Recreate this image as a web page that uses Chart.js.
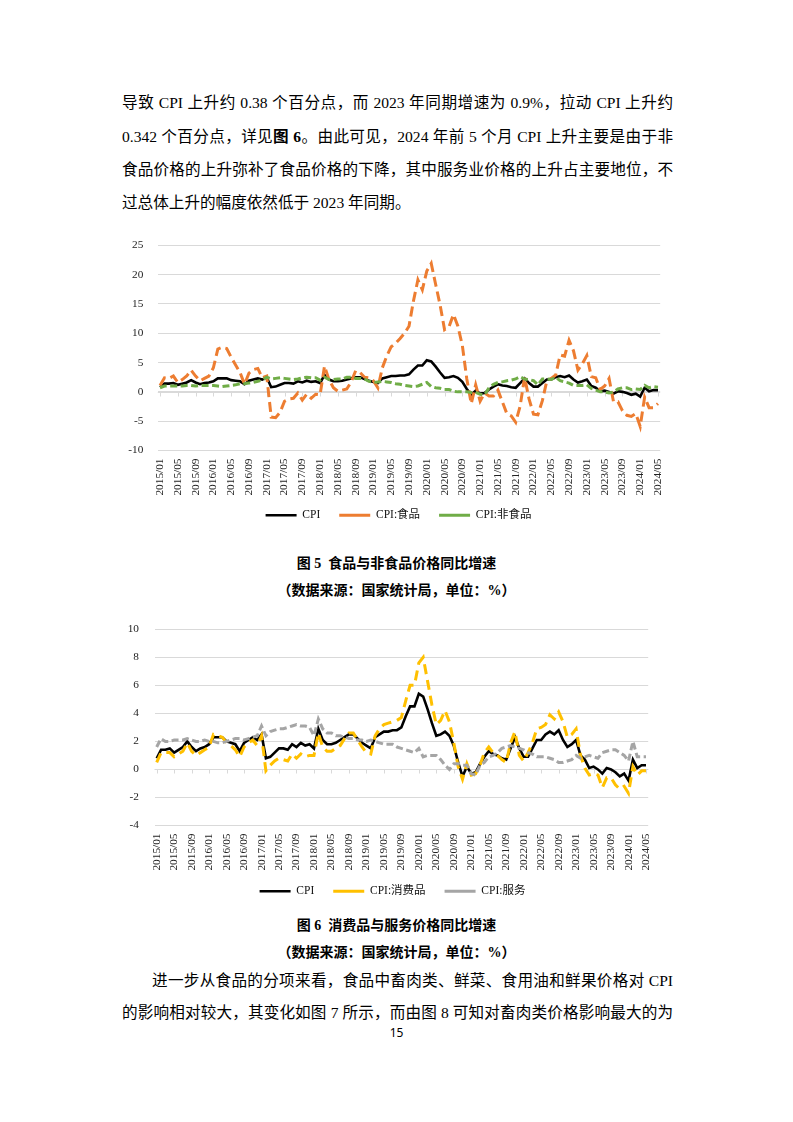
<!DOCTYPE html>
<html>
<head>
<meta charset="utf-8">
<script src="https://cdn.jsdelivr.net/npm/chart.js@4.4.1/dist/chart.umd.min.js"></script>
<style>
html, body { margin: 0; padding: 0; background: #fff; }
body { width: 793px; height: 1122px; position: relative; overflow: hidden;
  font-family: "Liberation Serif", "Noto Sans CJK SC", serif; color: #000; }
.ln { position: absolute; left: 122px; width: 551px; font-size: 15.6px; line-height: 20px; height: 20px;
  text-align: justify; text-align-last: justify; }
.ln.last { text-align: left; text-align-last: left; }
.cap { position: absolute; left: 0; width: 793px; text-align: center; font-weight: bold; font-size: 14px; line-height: 18px; }
.pg { position: absolute; left: 0; width: 793px; text-align: center; font-size: 12px; line-height: 14px;
  font-family: "Noto Sans", sans-serif; }
canvas { position: absolute; }
</style>
</head>
<body>

<div class="ln" style="top:93px">导致 CPI 上升约 0.38 个百分点，而 2023 年同期增速为 0.9%，拉动 CPI 上升约</div>
<div class="ln" style="top:127px">0.342 个百分点，详见<b>图 6</b>。由此可见，2024 年前 5 个月 CPI 上升主要是由于非</div>
<div class="ln" style="top:160px">食品价格的上升弥补了食品价格的下降，其中服务业价格的上升占主要地位，不</div>
<div class="ln last" style="top:193px">过总体上升的幅度依然低于 2023 年同期。</div>

<canvas id="c1" width="600" height="317" style="left:100px;top:224px"></canvas>

<div class="cap" style="top:555px">图 5&nbsp;&nbsp;食品与非食品价格同比增速</div>
<div class="cap" style="top:582px">（数据来源：国家统计局，单位：%）</div>

<canvas id="c2" width="600" height="307" style="left:100px;top:607px"></canvas>

<div class="cap" style="top:917px">图 6&nbsp;&nbsp;消费品与服务价格同比增速</div>
<div class="cap" style="top:944px">（数据来源：国家统计局，单位：%）</div>

<div class="ln" style="top:971px;left:152px;width:521px">进一步从食品的分项来看，食品中畜肉类、鲜菜、食用油和鲜果价格对 CPI</div>
<div class="ln" style="top:1003px">的影响相对较大，其变化如图 7 所示，而由图 8 可知对畜肉类价格影响最大的为</div>
<div class="pg" style="top:1026px">15</div>

<script>
// monthly categories 2015/01 .. 2024/05
const months = [];
for (let y = 2015; y <= 2024; y++) {
  for (let m = 1; m <= 12; m++) {
    if (y === 2024 && m > 5) break;
    months.push(y + '/' + String(m).padStart(2, '0'));
  }
}

// 同比增速 (%)
const cpi = [0.8,1.4,1.4,1.5,1.2,1.4,1.6,2.0,1.6,1.3,1.5,1.6,
  1.8,2.3,2.3,2.3,2.0,1.9,1.8,1.3,1.9,2.1,2.3,2.1,
  2.5,0.8,0.9,1.2,1.5,1.5,1.4,1.8,1.6,1.9,1.7,1.8,
  1.5,2.9,2.1,1.8,1.8,1.9,2.1,2.3,2.5,2.5,2.2,1.9,
  1.7,1.5,2.3,2.5,2.7,2.7,2.8,2.8,3.0,3.8,4.5,4.5,
  5.4,5.2,4.3,3.3,2.4,2.5,2.7,2.4,1.7,0.5,-0.5,0.2,
  -0.3,-0.2,0.4,0.9,1.3,1.1,1.0,0.8,0.7,1.5,2.3,1.5,
  0.9,0.9,1.5,2.1,2.1,2.5,2.7,2.5,2.8,2.1,1.6,1.8,
  2.1,1.0,0.7,0.1,0.2,0.0,-0.3,0.1,0.0,-0.2,-0.5,-0.3,
  -0.8,0.7,0.1,0.3,0.3];

const food = [1.1,2.4,2.3,2.7,1.6,2.1,2.7,3.7,2.7,1.9,2.3,2.7,
  4.1,7.3,7.6,7.4,5.9,4.6,3.3,1.3,3.2,3.8,4.0,2.4,
  2.7,-4.3,-4.4,-3.5,-1.6,-1.2,-1.1,-0.2,-1.4,-0.4,-1.1,-0.4,
  -0.5,4.4,2.1,0.7,0.1,0.3,0.5,1.7,3.6,3.3,2.5,2.4,
  1.9,0.7,4.1,6.1,7.7,8.3,9.1,10.0,11.2,15.5,19.1,17.4,
  20.6,21.9,18.3,14.8,10.6,11.1,13.2,11.2,7.9,2.2,-2.0,1.2,
  -1.6,-0.2,-0.7,-0.7,0.3,-1.7,-3.7,-4.1,-5.2,-2.4,2.5,-1.2,
  -3.8,-3.9,-1.5,1.9,2.3,2.9,6.3,6.1,8.8,7.0,3.7,4.8,
  6.2,2.6,2.4,0.4,1.0,2.3,-1.7,-1.7,-3.2,-4.0,-4.2,-3.7,
  -5.9,-0.9,-2.7,-2.7,-2.0];

const nonFood = [0.7,1.0,1.0,1.0,1.0,1.0,1.1,1.1,1.0,1.1,1.1,1.1,
  1.1,1.0,0.9,1.0,1.1,1.2,1.4,1.4,1.5,1.6,1.8,2.0,
  2.5,2.2,2.3,2.4,2.3,2.2,2.1,2.2,2.4,2.5,2.4,2.4,
  2.0,2.5,2.1,2.1,2.2,2.2,2.5,2.5,2.3,2.3,2.2,1.8,
  1.6,1.7,1.8,1.7,1.6,1.4,1.3,1.1,1.0,0.9,1.0,1.3,
  1.6,0.9,0.7,0.6,0.4,0.4,0.1,0.0,0.0,0.0,-0.1,-0.1,
  -0.4,-0.5,0.7,1.3,1.6,1.7,1.9,2.0,2.2,2.6,2.2,2.1,
  1.9,1.2,2.2,2.2,2.1,2.5,1.9,1.7,1.5,1.1,1.1,1.1,
  1.2,0.6,0.3,0.0,0.0,-0.2,0.0,0.5,0.7,0.7,0.4,0.5,
  0.4,1.1,0.7,0.9,0.8];

const goods = [0.5,1.2,1.2,1.2,0.9,1.1,1.3,1.9,1.3,1.0,1.2,1.4,
  1.6,2.5,2.4,2.3,1.9,1.7,1.4,0.9,1.6,1.9,2.1,1.7,
  2.4,-0.1,0.3,0.6,0.8,0.7,0.6,1.1,0.8,1.1,0.9,1.0,
  1.0,2.6,1.6,1.3,1.3,1.5,1.7,2.2,2.6,2.6,2.1,1.6,
  1.2,1.1,2.4,2.9,3.2,3.3,3.4,3.5,3.7,4.9,6.0,6.0,
  7.6,8.0,6.3,4.6,3.2,3.5,4.2,3.4,1.9,0.2,-0.7,0.4,
  -0.4,-0.3,0.3,1.2,1.6,1.2,1.0,0.7,0.5,1.9,2.7,1.0,
  0.6,1.2,1.9,2.9,3.0,3.2,3.9,3.6,4.1,3.4,2.3,2.5,
  2.9,1.0,0.1,-0.4,-0.3,-0.4,-1.3,-0.6,-0.6,-1.1,-1.4,-1.2,
  -1.7,0.2,-0.4,-0.1,-0.1];

const service = [1.6,2.2,2.0,2.0,2.1,2.1,2.1,2.2,2.1,2.0,2.0,2.1,
  2.0,2.0,1.9,1.9,2.0,2.1,2.2,2.2,2.1,2.2,2.3,2.4,
  3.1,2.4,2.7,2.8,2.9,2.9,3.0,3.1,3.2,3.1,3.1,3.0,
  2.4,3.6,2.9,2.6,2.6,2.4,2.4,2.3,2.2,2.2,2.1,2.1,
  2.0,2.1,2.0,1.9,1.8,1.8,1.8,1.6,1.5,1.4,1.3,1.2,
  1.5,0.9,1.0,1.0,1.0,0.7,0.3,0.0,0.4,0.4,0.3,0.3,
  -0.3,-0.4,0.3,0.5,0.9,1.0,1.2,1.5,1.6,1.7,1.6,1.5,
  1.4,1.2,1.1,0.9,0.9,0.9,0.8,0.7,0.5,0.5,0.6,0.7,
  1.0,0.8,0.9,1.0,0.9,0.8,1.2,1.3,1.4,1.4,1.2,1.0,
  0.6,2.0,0.9,0.9,0.9];

const FONT = "'Liberation Serif', 'Noto Sans CJK SC', serif";
const GRID = '#d9d9d9';

// little tick marks on the zero line, like the excel category axis
const zeroTicks = {
  id: 'zeroTicks',
  beforeDatasetsDraw(chart) {
    const { ctx, scales: { x, y } } = chart;
    const y0 = Math.round(y.getPixelForValue(0)) + 0.5;
    ctx.save();
    ctx.strokeStyle = GRID;
    ctx.lineWidth = 1;
    ctx.beginPath();
    ctx.moveTo(chart.chartArea.left, y0);
    ctx.lineTo(chart.chartArea.right, y0);
    for (let i = 0; i < months.length; i += 4) {
      const px = Math.round(x.getPixelForValue(i)) + 0.5;
      ctx.moveTo(px, y0);
      ctx.lineTo(px, y0 + 4);
    }
    ctx.stroke();
    ctx.restore();
  }
};

// nudge the legend box so it sits where the original one is
const legendShift = {
  id: 'legendShift',
  afterLayout(chart, args, o) {
    const l = chart.legend;
    if (!l) return;
    l.left += o.dx; l.right += o.dx;
    l.top += o.dy; l.bottom += o.dy;
  }
};

function lineChart(id, sets, yMin, yMax, step, opt) {
  return new Chart(document.getElementById(id), {
    type: 'line',
    data: {
      labels: months,
      datasets: sets.map((s, i) => ({
        label: s.label,
        data: s.data,
        borderColor: s.color,
        backgroundColor: s.color,
        borderWidth: s.width,
        borderDash: s.dash,
        borderCapStyle: 'butt',
        pointRadius: 0,
        tension: 0,
        fill: false,
        order: sets.length - i
      }))
    },
    options: {
      responsive: false,
      animation: false,
      devicePixelRatio: 1,
      layout: { padding: opt.pad },
      plugins: {
        tooltip: { enabled: false },
        legendShift: { dx: opt.dx, dy: opt.dy },
        legend: {
          position: 'bottom',
          labels: {
            usePointStyle: true,
            pointStyle: 'line',
            pointStyleWidth: 31,
            boxHeight: 12,
            padding: 19,
            color: '#111',
            font: { family: FONT, size: 11.5 },
            sort: (a, b) => a.datasetIndex - b.datasetIndex
          }
        }
      },
      scales: {
        x: {
          offset: true,
          grid: { display: false, drawTicks: false, tickLength: 0 },
          border: { display: false },
          ticks: {
            autoSkip: false,
            minRotation: 90,
            maxRotation: 90,
            padding: 8,
            color: '#222',
            font: { family: FONT, size: 11.3 },
            callback: (v, i) => (i % 4 === 0 ? months[i] : '')
          },
          afterFit: a => { a.height = opt.xh; }
        },
        y: {
          min: yMin,
          max: yMax,
          grid: { color: GRID, drawTicks: false },
          border: { display: false },
          ticks: { stepSize: step, padding: opt.yPad, color: '#222', font: { family: FONT, size: 11.3 } },
          afterFit: a => { a.width = opt.yw; }
        }
      }
    },
    plugins: [zeroTicks, legendShift]
  });
}

lineChart('c1', [
  { label: 'CPI', data: cpi, color: '#000000', width: 2.6, dash: [] },
  { label: 'CPI:食品', data: food, color: '#ED7D31', width: 3, dash: [10, 5] },
  { label: 'CPI:非食品', data: nonFood, color: '#70AD47', width: 3, dash: [7, 3.5] }
], -10, 25, 5, { pad: { top: 0, right: 39.8, left: 0, bottom: 0 }, yw: 57.8, yPad: 14.5, xh: 50, dx: 18.4, dy: -10 });

lineChart('c2', [
  { label: 'CPI', data: cpi, color: '#000000', width: 2.6, dash: [] },
  { label: 'CPI:消费品', data: goods, color: '#FFC000', width: 3, dash: [10, 6] },
  { label: 'CPI:服务', data: service, color: '#A5A5A5', width: 3, dash: [7, 3.5] }
], -4, 10, 2, { pad: { top: 0, right: 51.8, left: 0, bottom: 0 }, yw: 54.5, yPad: 15.5, xh: 48, dx: 18.4, dy: -7 });
</script>
</body>
</html>
